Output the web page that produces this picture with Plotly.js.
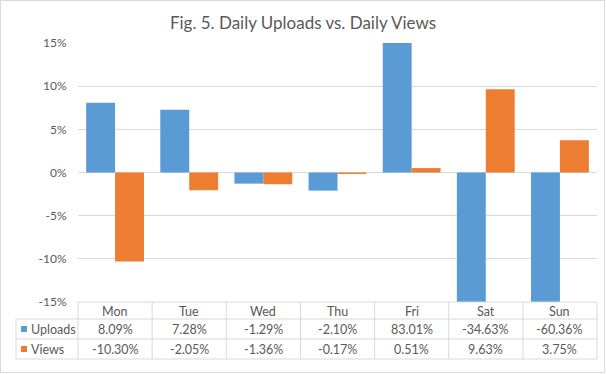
<!DOCTYPE html>
<html>
<head>
<meta charset="utf-8">
<script src="https://cdn.plot.ly/plotly-3.0.1.min.js"></script>
<style>html,body{margin:0;padding:0;background:#fff;}#chart{width:606px;height:374px;}</style>
</head>
<body>
<div id="chart"></div>
<script>
// ---- data ----
const days = ["Mon", "Tue", "Wed", "Thu", "Fri", "Sat", "Sun"];
const uploads = [8.09, 7.28, -1.29, -2.10, 83.01, -34.63, -60.36];
const views = [-10.30, -2.05, -1.36, -0.17, 0.51, 9.63, 3.75];
const seriesNames = ["Uploads", "Views"];
const yTickVals = [-15, -10, -5, 0, 5, 10, 15];
const yTickText = ["-15%", "-10%", "-5%", "0%", "5%", "10%", "15%"];
const titleText = "Fig. 5. Daily Uploads vs. Daily Views";

// ---- layout geometry ----
const W = 606, H = 374, L = 78, R = 9, T = 43, B = 72;
const colors = ["#5B9BD5", "#ED7D31"];
const grid = "#D9D9D9";
const txt = "#595959";
const FONT = "Lato, 'Open Sans', sans-serif";
const px = v => (v - L) / (W - L - R);
const py = v => (H - B - v) / (H - T - B);

// fit title font size to the reference title width (~268 px)
let titleSize = 18;
try {
  const ctx = document.createElement("canvas").getContext("2d");
  ctx.font = "20px Lato";
  const w20 = ctx.measureText(titleText).width;
  if (w20 > 0) titleSize = Math.max(15, Math.min(20, 20 * 268 / w20));
} catch (e) {}

const traces = [uploads, views].map((vals, i) => ({
  type: "bar",
  x: days,
  y: vals,
  name: seriesNames[i],
  marker: {color: colors[i]},
  hoverinfo: "x+y"
}));

const shapes = [];
const annotations = [];
const line = {color: grid, width: 1};
// outer border
shapes.push({type: "rect", xref: "paper", yref: "paper", x0: px(0.5), x1: px(604.5), y0: py(0.5), y1: py(372.5), line: line});

const rowY = [302, 319, 339, 359];
// horizontal table lines
shapes.push({type: "line", xref: "paper", yref: "paper", x0: px(L), x1: 1, y0: py(rowY[0]), y1: py(rowY[0]), line: line});
for (let k = 1; k < rowY.length; k++) {
  shapes.push({type: "line", xref: "paper", yref: "paper", x0: px(16), x1: 1, y0: py(rowY[k]), y1: py(rowY[k]), line: line});
}
// vertical lines
shapes.push({type: "line", xref: "paper", yref: "paper", x0: px(16), x1: px(16), y0: py(rowY[1]), y1: py(rowY[3]), line: line});
for (let k = 0; k <= days.length; k++) {
  const xx = k / days.length;
  shapes.push({type: "line", xref: "paper", yref: "paper", x0: xx, x1: xx, y0: py(rowY[0]), y1: py(rowY[3]), line: line});
}

const fmt = v => v.toFixed(2) + "%";
const rowCenters = [(rowY[0] + rowY[1]) / 2 + 1, (rowY[1] + rowY[2]) / 2, (rowY[2] + rowY[3]) / 2];
const tfont = {family: FONT, size: 12.5, color: txt};
days.forEach((d, i) => {
  annotations.push({xref: "x", yref: "paper", x: d, y: py(rowCenters[0]), yanchor: "middle", xanchor: "center", text: d, showarrow: false, font: tfont});
  annotations.push({xref: "x", yref: "paper", x: d, y: py(rowCenters[1]), yanchor: "middle", xanchor: "center", text: fmt(uploads[i]), showarrow: false, font: tfont});
  annotations.push({xref: "x", yref: "paper", x: d, y: py(rowCenters[2]), yanchor: "middle", xanchor: "center", text: fmt(views[i]), showarrow: false, font: tfont});
});
// legend keys in table
seriesNames.forEach((n, i) => {
  const cy = rowCenters[i + 1];
  shapes.push({type: "rect", xref: "paper", yref: "paper", x0: px(21), x1: px(27), y0: py(cy - 3), y1: py(cy + 3), line: {width: 0}, fillcolor: colors[i]});
  annotations.push({xref: "paper", yref: "paper", x: px(29), y: py(cy), xanchor: "left", yanchor: "middle", text: n, showarrow: false, font: tfont});
});

const layout = {
  width: W, height: H,
  margin: {l: L, r: R, t: T, b: B, pad: 0},
  paper_bgcolor: "#fff", plot_bgcolor: "#fff",
  title: {text: titleText, x: 303 / W, xref: "container", xanchor: "center", y: 1 - 23 / H, yanchor: "middle",
          font: {family: FONT, size: titleSize, color: txt}},
  showlegend: false,
  bargap: 0.22, bargroupgap: 0,
  barmode: "group",
  xaxis: {type: "category", showticklabels: false, showgrid: false, zeroline: false, showline: false, ticks: "", fixedrange: true},
  yaxis: {range: [-15, 15], tickvals: yTickVals, ticktext: yTickText, showgrid: true, gridcolor: grid, gridwidth: 1,
          zeroline: true, zerolinecolor: grid, zerolinewidth: 1, showline: false,
          ticks: "outside", ticklen: 8, tickcolor: "rgba(0,0,0,0)",
          tickfont: {family: FONT, size: 12, color: txt}, fixedrange: true},
  shapes: shapes,
  annotations: annotations
};

Plotly.newPlot("chart", traces, layout, {displayModeBar: false, staticPlot: true});
</script>
</body>
</html>
